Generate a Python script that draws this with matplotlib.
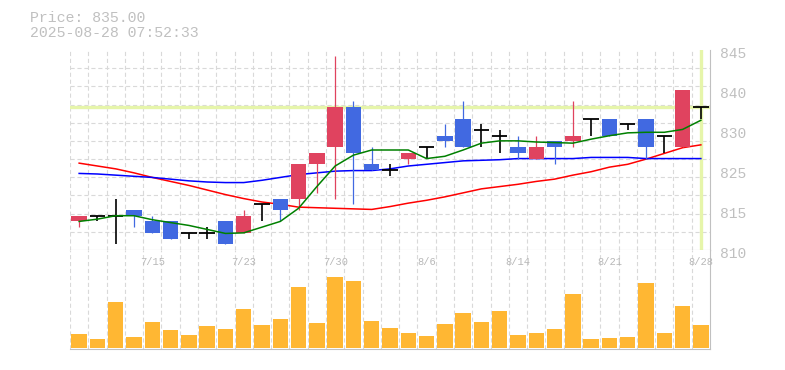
import numpy as np
import matplotlib.pyplot as plt
import matplotlib.transforms as mtransforms
from matplotlib.ticker import FixedLocator

plt.rcParams['font.family'] = ['Liberation Mono', 'DejaVu Sans Mono']
plt.rcParams['lines.scale_dashes'] = False

apertura = [815, 816, 816, 817, 815, 815, 813, 813, 815, 813, 818, 819, 819, 825, 828, 835, 825, 824,
            826, 828, 830, 833, 831, 830, 828, 826, 829, 829, 833, 833, 832, 833, 830, 828, 835]
maximo = [816, 816, 819, 817, 816, 815, 813, 814, 815, 817, 818, 819, 825, 827, 844, 836, 828, 825,
          827, 828, 832, 836, 832, 831, 830, 830, 829, 836, 833, 833, 832, 833, 830, 838, 835]
minimo = [814, 815, 811, 814, 813, 812, 812, 812, 811, 813, 815, 815, 817, 820, 819, 818, 824, 823,
          825, 826, 828, 828, 828, 827, 826, 826, 825, 828, 830, 830, 831, 826, 827, 828, 833]
cierre = [816, 816, 816, 816, 813, 812, 813, 813, 811, 816, 818, 817, 825, 827, 835, 827, 824, 824,
          827, 828, 829, 828, 831, 830, 827, 828, 828, 830, 833, 830, 832, 828, 830, 838, 835]
volumen = [41, 26, 137, 32, 77, 53, 38, 65, 56, 116, 68, 86, 182, 74, 212, 200, 80, 59,
           44, 35, 71, 104, 77, 110, 38, 44, 56, 161, 26, 29, 32, 194, 44, 125, 68]

media5 = [815.0, 815.4, 816.0, 816.0, 815.3, 814.8, 814.3, 813.6, 812.9, 813.0, 814.0, 815.0, 817.3,
          821.1, 824.7, 826.6, 827.5, 827.5, 827.5, 826.0, 826.4, 827.5, 828.7, 829.1, 829.1, 828.9,
          828.8, 828.7, 829.4, 830.0, 830.5, 830.6, 830.6, 831.1, 832.7]
media25 = [825.2, 824.7, 824.2, 823.5, 822.7, 822.0, 821.3, 820.5, 819.7, 819.0, 818.4, 818.0, 817.5,
           817.4, 817.3, 817.2, 817.1, 817.6, 818.2, 818.7, 819.3, 820.0, 820.7, 821.1, 821.5, 822.0,
           822.4, 823.1, 823.7, 824.5, 825.0, 825.9, 826.9, 827.9, 828.4]
media75 = [823.4, 823.3, 823.1, 822.9, 822.7, 822.4, 822.1, 821.9, 821.8, 821.8, 822.2, 822.7, 823.2,
           823.5, 823.8, 823.9, 823.9, 824.2, 824.7, 825.0, 825.3, 825.6, 825.7, 825.8, 826.0, 826.0,
           826.0, 826.0, 826.2, 826.2, 826.2, 826.0, 826.0, 826.0, 826.0]

pos_fechas = [4, 9, 14, 19, 24, 29, 34]
fechas = ['7/15', '7/23', '7/30', '8/6', '8/14', '8/21', '8/28']
ticks_precio = [810, 817, 824, 831, 838, 845]
etiquetas_precio = ['810', '815', '825', '830', '840', '845']
precio_actual = 835.00

ROJO = '#e0435f'
AZUL = '#4169e1'
GRIS = '#c0c0c0'
REJILLA = '#d9d9d9'
RESALTE = '#e6f5aa'

n = len(cierre)
x = np.arange(n)
ancho = 0.84

fig = plt.figure(figsize=(7.85, 3.7), dpi=100)
ax = fig.add_axes([70/785, 120/370, 640/785, 200/370])
axv = fig.add_axes([70/785, 21/370, 640/785, 99/370])

for a in (ax, axv):
    a.set_xlim(-0.5, n - 0.5)
    a.xaxis.set_minor_locator(FixedLocator(np.arange(n) - 0.5))
    a.set_xticks([])
    a.grid(which='minor', axis='x', color=REJILLA, linestyle=(0, (3, 2)), linewidth=0.8)
    a.spines['left'].set_visible(False)
    a.spines['top'].set_visible(False)
    a.spines['right'].set_color(GRIS)
    a.spines['bottom'].set_color(GRIS)
    a.tick_params(which='both', length=0)
    a.set_axisbelow(True)

ax.set_ylim(810, 845)
ax.yaxis.set_minor_locator(FixedLocator(np.linspace(810, 845, 12)))
ax.grid(which='minor', axis='y', color=REJILLA, linestyle=(0, (3, 2)), linewidth=0.8)
ax.yaxis.tick_right()
ax.set_yticks(ticks_precio)
ax.set_yticklabels(etiquetas_precio)
ax.tick_params(axis='y', labelsize=10.5, labelcolor=GRIS, pad=7)
desplaza = mtransforms.ScaledTranslation(0, -3/100, fig.dpi_scale_trans)
for t in ax.get_yticklabels():
    t.set_transform(t.get_transform() + desplaza)

ax.axhline(precio_actual, color=RESALTE, linewidth=2.4, zorder=1)
ax.axvline(x[-1], color=RESALTE, linewidth=2.4, zorder=1)

ax.plot(x, media25, color='#ff0000', linewidth=1.1, zorder=2)
ax.plot(x, media75, color='#0000ff', linewidth=1.1, zorder=2)

for i in range(n):
    o, h, l, c = apertura[i], maximo[i], minimo[i], cierre[i]
    if c == o:
        ax.vlines(i, l, h, color='black', linewidth=1.2, zorder=3)
        ax.hlines(c, i - ancho/2, i + ancho/2, color='black', linewidth=1.3, zorder=3)
    else:
        col = ROJO if c > o else AZUL
        ax.vlines(i, l, h, color=col, linewidth=0.9, zorder=3)
        ax.bar(i, abs(c - o), bottom=min(o, c), width=ancho, color=col, zorder=4)

ax.plot(x, media5, color='#008000', linewidth=1.1, zorder=5)

axv.bar(x, volumen, width=ancho, color='#ffb733', zorder=2)
axv.set_ylim(-4, 293)
axv.set_yticks([])
for p, f in zip(pos_fechas, fechas):
    axv.text(p, 1 - 12/99, f, transform=axv.get_xaxis_transform(), ha='center', va='center',
             fontsize=7.5, color='#b8b8b8', zorder=3)

fig.text(30/785, 1 - 18/370, f'Price: {precio_actual:.2f}', fontsize=10.7, color=GRIS, va='center')
fig.text(30/785, 1 - 33/370, '2025-08-28 07:52:33', fontsize=10.7, color=GRIS, va='center')

plt.savefig('out.png', dpi=100)
